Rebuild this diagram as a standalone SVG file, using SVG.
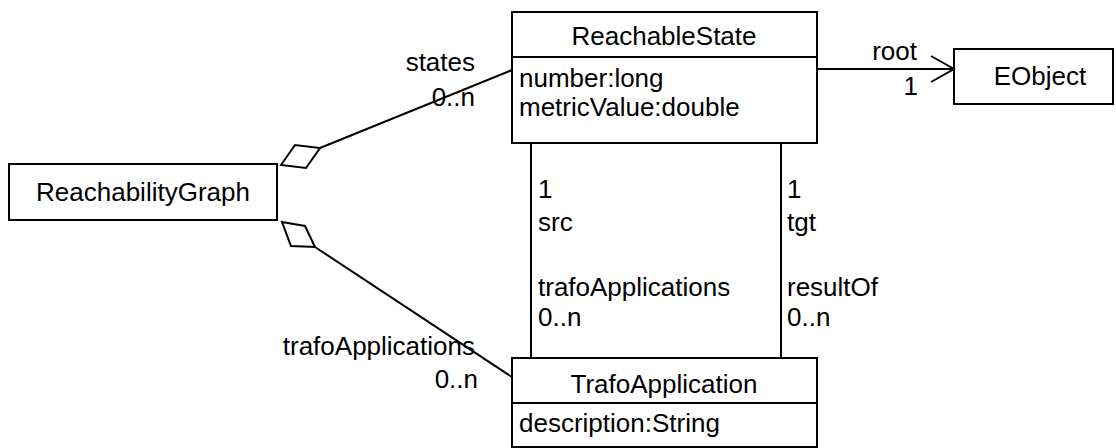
<svg xmlns="http://www.w3.org/2000/svg" width="1116" height="448" viewBox="0 0 1116 448">
  <style>
    .box { fill: #fff; stroke: #000; stroke-width: 2; }
    .ln { fill: none; stroke: #000; stroke-width: 2; }
    .dia { fill: #fff; stroke: #000; stroke-width: 2; stroke-linejoin: miter; }
    text { font-family: "Liberation Sans", Arial, sans-serif; font-size: 26px; fill: #000; }
    .c { text-anchor: middle; }
    .r { text-anchor: end; }
  </style>
  <rect width="1116" height="448" fill="#fff"/>

  <!-- associations -->
  <g id="connectors">
    <!-- graph to states (aggregation) -->
    <line class="ln" x1="320" y1="148" x2="512" y2="70"/>
    <polygon class="dia" points="281,165 295,145 320,148 306,168"/>
    <!-- graph to trafoApplications (aggregation) -->
    <line class="ln" x1="315" y1="247" x2="512" y2="377"/>
    <polygon class="dia" points="282,222 305,226 315,247 291,246"/>
    <!-- root -->
    <line class="ln" x1="817" y1="69" x2="954" y2="69"/>
    <polyline class="ln" points="931,56 954,69 931,82"/>
    <!-- src / trafoApplications -->
    <line class="ln" x1="531" y1="143" x2="531" y2="358"/>
    <!-- tgt / resultOf -->
    <line class="ln" x1="781" y1="143" x2="781" y2="358"/>

    <text class="r" x="475" y="71">states</text>
    <text class="r" x="475" y="106">0..n</text>
    <text class="r" x="475" y="355">trafoApplications</text>
    <text class="r" x="478" y="388">0..n</text>
    <text class="r" x="917" y="60">root</text>
    <text class="r" x="918" y="95">1</text>
    <text x="538" y="198">1</text>
    <text x="538" y="231">src</text>
    <text x="538" y="296">trafoApplications</text>
    <text x="538" y="326">0..n</text>
    <text x="787" y="198">1</text>
    <text x="787" y="231">tgt</text>
    <text x="787" y="296">resultOf</text>
    <text x="787" y="326">0..n</text>
  </g>

  <g id="ReachabilityGraph">
    <rect class="box" x="9" y="164" width="268" height="56"/>
    <text class="c" x="143" y="201">ReachabilityGraph</text>
  </g>

  <g id="ReachableState">
    <rect class="box" x="512" y="12" width="305" height="131"/>
    <line class="ln" x1="512" y1="57" x2="817" y2="57"/>
    <text class="c" x="664" y="45">ReachableState</text>
    <text x="519" y="87">number:long</text>
    <text x="519" y="116">metricValue:double</text>
  </g>

  <g id="EObject">
    <rect class="box" x="954" y="49" width="159" height="55"/>
    <text class="c" x="1040" y="85">EObject</text>
  </g>

  <g id="TrafoApplication">
    <rect class="box" x="512" y="358" width="305" height="89"/>
    <line class="ln" x1="512" y1="403" x2="817" y2="403"/>
    <text class="c" x="664" y="393">TrafoApplication</text>
    <text x="519" y="432">description:String</text>
  </g>
</svg>
